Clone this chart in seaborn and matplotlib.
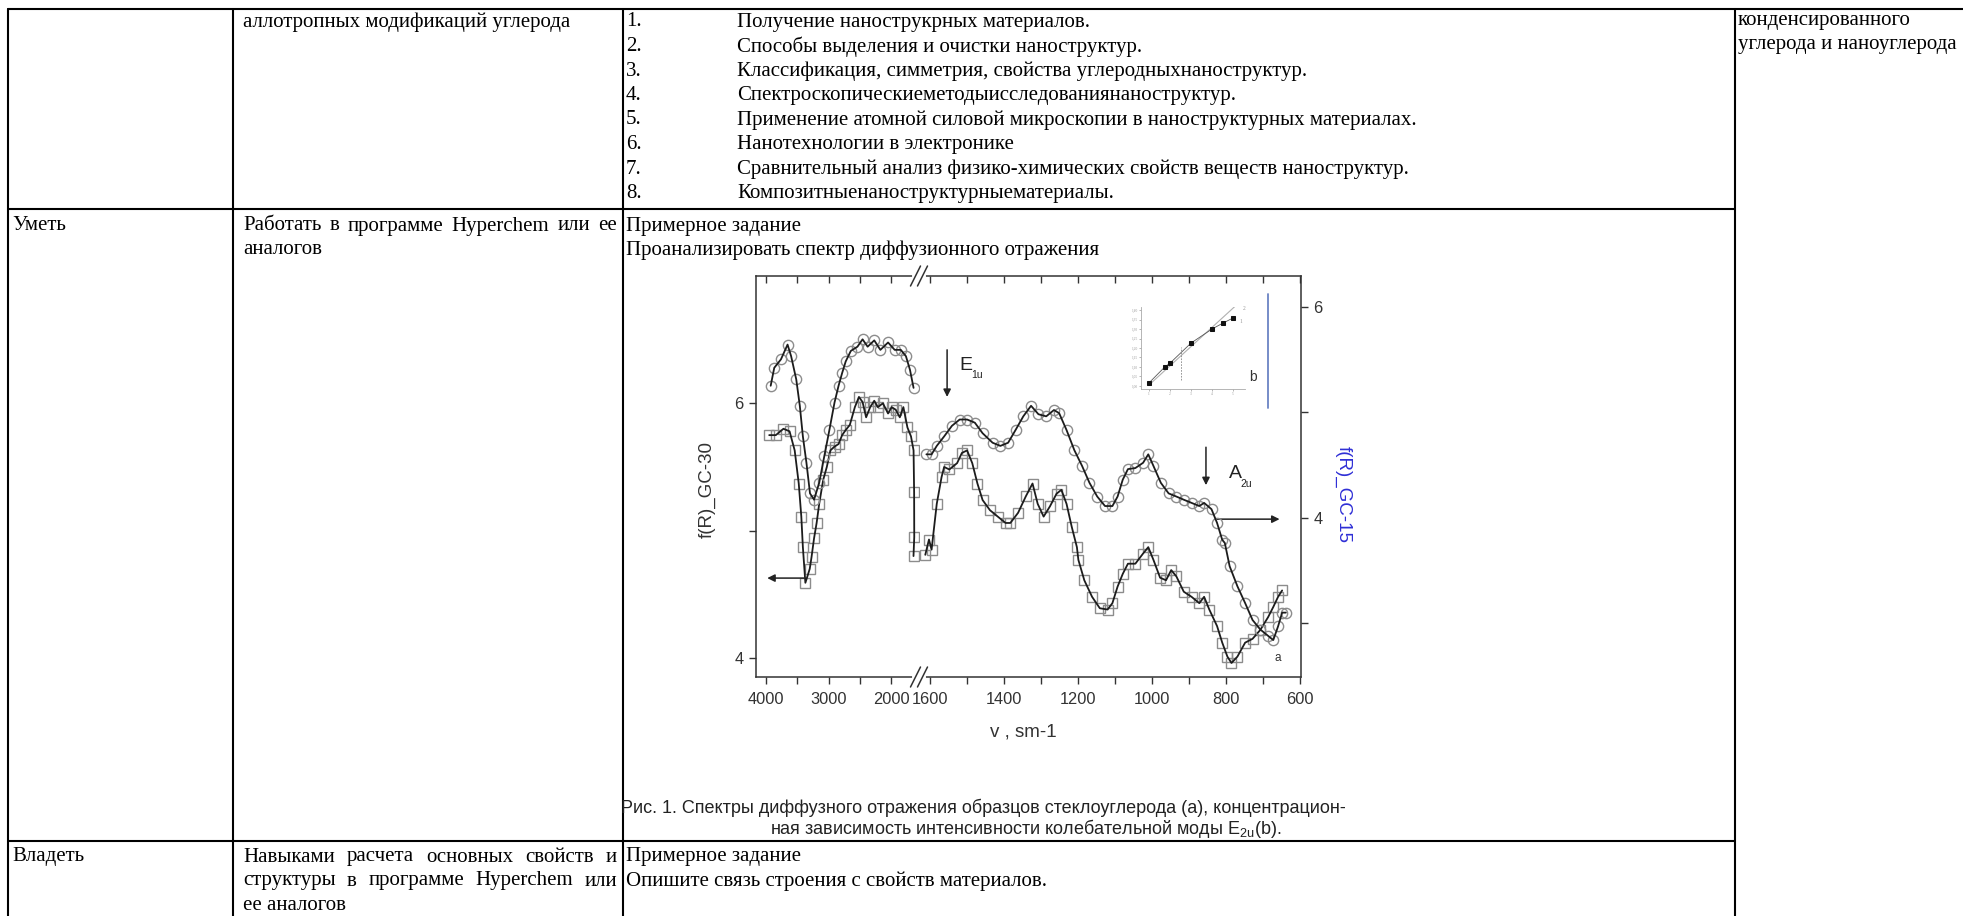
import matplotlib
matplotlib.use("Agg")
import matplotlib.pyplot as plt
from matplotlib.lines import Line2D
import seaborn as sns
import pandas as pd

sns.set_theme(style="ticks")
SERIF = ['Liberation Serif', 'DejaVu Serif']
SANS = ['Liberation Sans', 'DejaVu Sans']
plt.rcParams['font.family'] = SERIF

W, H, DPI = 1963, 916, 100

# ---------------- data ----------------
# GC-30 (squares, left axis), high-wavenumber segment
sq_hi_x = [3949, 3843, 3721, 3623, 3541, 3476, 3435, 3410, 3370, 3300, 3272, 3231, 3190, 3149,
           3084, 3027, 2970, 2904, 2839, 2782, 2725, 2659, 2578, 2513, 2455, 2398, 2333, 2268,
           2211, 2129, 2047, 1990, 1925, 1859, 1802, 1737, 1680, 1639, 1630, 1628, 1640]
sq_hi_y = [5.75, 5.75, 5.80, 5.78, 5.63, 5.37, 5.11, 4.87, 4.59, 4.70, 4.79, 4.94, 5.06, 5.21,
           5.40, 5.50, 5.63, 5.66, 5.68, 5.75, 5.79, 5.83, 5.97, 6.05, 6.01, 5.89, 5.97, 6.02,
           5.97, 6.00, 5.92, 5.97, 5.95, 5.89, 5.97, 5.81, 5.74, 5.63, 5.30, 4.95, 4.80]
# GC-30 (squares, left axis), low-wavenumber segment
sq_lo_x = [1613, 1603, 1596, 1582, 1569, 1562, 1548, 1527, 1514, 1500, 1486, 1472, 1458, 1438,
           1417, 1396, 1383, 1362, 1341, 1323, 1309, 1293, 1276, 1258, 1245, 1231, 1217, 1203,
           1199, 1183, 1162, 1141, 1120, 1107, 1093, 1079, 1065, 1045, 1024, 1010, 996, 978,
           962, 948, 934, 914, 893, 872, 859, 845, 824, 810, 796, 785, 769, 748, 728, 707,
           686, 672, 659, 648]
sq_lo_y = [4.81, 4.93, 4.85, 5.21, 5.42, 5.50, 5.48, 5.53, 5.61, 5.63, 5.53, 5.37, 5.24, 5.16,
           5.11, 5.06, 5.06, 5.14, 5.27, 5.37, 5.21, 5.11, 5.19, 5.29, 5.32, 5.21, 5.03, 4.87,
           4.77, 4.61, 4.48, 4.39, 4.38, 4.43, 4.56, 4.66, 4.74, 4.74, 4.82, 4.87, 4.77, 4.63,
           4.61, 4.69, 4.64, 4.52, 4.48, 4.43, 4.48, 4.38, 4.25, 4.12, 4.01, 3.96, 4.01, 4.12,
           4.15, 4.22, 4.32, 4.40, 4.48, 4.53]
# GC-15 (circles, right axis), high-wavenumber segment
ci_hi_x = [3925, 3868, 3761, 3655, 3598, 3516, 3459, 3410, 3353, 3296, 3231, 3149, 3068, 2986,
           2904, 2839, 2782, 2725, 2643, 2537, 2455, 2374, 2268, 2170, 2047, 1941, 1843, 1761,
           1696, 1639]
ci_hi_y = [5.25, 5.42, 5.50, 5.64, 5.53, 5.31, 5.06, 4.77, 4.52, 4.23, 4.17, 4.33, 4.58, 4.83,
           5.09, 5.25, 5.37, 5.48, 5.58, 5.62, 5.69, 5.62, 5.68, 5.59, 5.66, 5.59, 5.59, 5.53,
           5.40, 5.23]
# GC-15 (circles, right axis), low-wavenumber segment
ci_lo_x = [1610, 1596, 1582, 1562, 1541, 1520, 1500, 1479, 1458, 1431, 1410, 1389, 1369, 1348,
           1327, 1307, 1286, 1265, 1251, 1231, 1210, 1189, 1169, 1148, 1127, 1107, 1093, 1079,
           1065, 1045, 1024, 1010, 996, 976, 955, 934, 914, 893, 872, 859, 839, 824, 810, 803,
           790, 769, 748, 728, 707, 686, 672, 659, 648, 638]
ci_lo_y = [4.60, 4.60, 4.68, 4.77, 4.87, 4.93, 4.93, 4.90, 4.80, 4.71, 4.68, 4.71, 4.83, 4.96,
           5.06, 4.98, 4.96, 5.02, 4.99, 4.83, 4.64, 4.49, 4.33, 4.20, 4.11, 4.11, 4.20, 4.36,
           4.46, 4.47, 4.52, 4.60, 4.49, 4.33, 4.23, 4.20, 4.17, 4.14, 4.11, 4.14, 4.08, 3.95,
           3.79, 3.76, 3.54, 3.35, 3.19, 3.03, 2.94, 2.88, 2.84, 2.97, 3.10, 3.10]
# inset (b)
inset_x = [1, 1.75, 2, 3, 4, 4.5, 5]
inset_y = [1.016, 1.10, 1.12, 1.226, 1.30, 1.33, 1.358]
inset_fit_x = [1, 5.1]
inset_fit_y = [1.005, 1.42]

xticks_hi = [4000, 3500, 3000, 2500, 2000]
xticklabels_hi = ['4000', '', '3000', '', '2000']
xticks_lo = [1600, 1500, 1400, 1300, 1200, 1100, 1000, 900, 800, 700, 600]
xticklabels_lo = ['1600', '', '1400', '', '1200', '', '1000', '', '800', '', '600']
yticks_left = [4, 5, 6]
yticklabels_left = ['4', '', '6']
yticks_right = [3, 4, 5, 6]
yticklabels_right = ['', '4', '', '6']

list_items = [
    "Получение нанострукрных материалов.",
    "Способы выделения и очистки наноструктур.",
    "Классификация, симметрия, свойства углеродныхнаноструктур.",
    "Спектроскопическиеметодыисследованиянаноструктур.",
    "Применение атомной силовой микроскопии в наноструктурных материалах.",
    "Нанотехнологии в электронике",
    "Сравнительный анализ физико-химических свойств веществ наноструктур.",
    "Композитныенаноструктурныематериалы.",
]

# ---------------- figure ----------------
fig = plt.figure(figsize=(W / DPI, H / DPI), dpi=DPI, facecolor='white')
renderer = fig.canvas.get_renderer()


def fx(px):
    return px / W


def fy(py):
    return 1 - py / H


BODY = 15


def text(px, py, s, **kw):
    kw.setdefault('family', SERIF)
    kw.setdefault('fontsize', BODY)
    kw.setdefault('color', 'black')
    ha = kw.pop('ha', 'left')
    va = kw.pop('va', 'center')
    return fig.text(fx(px), fy(py), s, ha=ha, va=va, **kw)


def justify(px0, px1, py, s, **kw):
    words = s.split()
    arts = [text(0, py, w, **kw) for w in words]
    widths = [a.get_window_extent(renderer).width for a in arts]
    gap = (px1 - px0 - sum(widths)) / max(len(words) - 1, 1)
    x = px0
    for a, w in zip(arts, widths):
        a.set_x(fx(x))
        x += w + gap


def hline(y, x0, x1, lw=1.5):
    fig.add_artist(Line2D([fx(x0), fx(x1)], [fy(y), fy(y)], color='black', lw=lw))


def vline(x, y0, y1, lw=1.5):
    fig.add_artist(Line2D([fx(x), fx(x)], [fy(y0), fy(y1)], color='black', lw=lw))


# table grid
C0, C1, C2, C3 = 8, 233, 623, 1735
R0, R1, R2 = 9, 209, 841
hline(R0, C0, W)
hline(R1, C0, C3)
hline(R2, C0, C3)
for c in (C0, C1, C2, C3):
    vline(c, R0, H)

# row 1
text(243, 22, "аллотропных модификаций углерода")
for i, item in enumerate(list_items):
    yy = 22 + 24.5 * i
    text(626, yy, f"{i + 1}.")
    text(737, yy, item)
text(1738, 21, "конденсированного")
text(1738, 44, "углерода и наноуглерода")

# row 2
text(12, 226, "Уметь")
justify(243, 617, 226, "Работать в программе Hyperchem или ее")
text(243, 250, "аналогов")
text(626, 226, "Примерное задание")
text(626, 250, "Проанализировать спектр диффузионного отражения")

# row 3
text(12, 857, "Владеть")
justify(243, 617, 857, "Навыками расчета основных свойств и")
justify(243, 617, 881, "структуры в программе Hyperchem или")
text(243, 905, "ее аналогов")
text(626, 857, "Примерное задание")
text(626, 881, "Опишите связь строения с свойств материалов.")

# ---------------- chart ----------------
AX_L, AX_B, AX_R, AX_T, BRK = 756, 677, 1301, 276, 919
SP = '#333333'
LINE = '#1c1c1c'
MK = '#8c8c8c'

axL = fig.add_axes([fx(AX_L), fy(AX_B), fx(BRK) - fx(AX_L), fy(AX_T) - fy(AX_B)])
axR = fig.add_axes([fx(BRK), fy(AX_B), fx(AX_R) - fx(BRK), fy(AX_T) - fy(AX_B)])
axL2 = axL.twinx()
axR2 = axR.twinx()
for a in (axL, axR, axL2, axR2):
    a.set_facecolor('none')


def draw_series(ax, x, y, marker):
    df = pd.DataFrame({'x': x, 'y': y})
    sns.lineplot(data=df, x='x', y='y', ax=ax, sort=False, estimator=None,
                 color=MK, marker=marker, linestyle='none', markersize=7.4,
                 markerfacecolor='none', markeredgecolor=MK, markeredgewidth=1.0, zorder=2)
    sns.lineplot(data=df, x='x', y='y', ax=ax, sort=False, estimator=None,
                 color=LINE, lw=1.3, zorder=3)
    ax.set_xlabel('')
    ax.set_ylabel('')


draw_series(axL, sq_hi_x, sq_hi_y, 's')
draw_series(axR, sq_lo_x, sq_lo_y, 's')
draw_series(axL2, ci_hi_x, ci_hi_y, 'o')
draw_series(axR2, ci_lo_x, ci_lo_y, 'o')

axL.set_xlim(4160, 1552)
axR.set_xlim(1630, 597)
for a in (axL, axR):
    a.set_ylim(3.85, 7.0)
for a in (axL2, axR2):
    a.set_ylim(2.49, 6.29)

tick_kw = dict(color=SP, labelcolor='#333333', labelsize=11.8, width=1.0, length=5)
axL.set_xticks(xticks_hi, xticklabels_hi)
axR.set_xticks(xticks_lo, xticklabels_lo)
axL.set_yticks(yticks_left, yticklabels_left)
axR.set_yticks(yticks_left)
axR2.set_yticks(yticks_right, yticklabels_right)
axL2.set_yticks([])

axL.tick_params(axis='x', direction='out', pad=6, **tick_kw)
axR.tick_params(axis='x', direction='out', pad=6, **tick_kw)
axL.tick_params(axis='y', direction='out', pad=4, **tick_kw)
axR.tick_params(axis='y', left=False, labelleft=False)
axR2.tick_params(axis='y', direction='out', pad=4, **tick_kw)
axL2.tick_params(axis='y', right=False, labelright=False)

for a in (axL, axR):
    sec = a.secondary_xaxis('top')
    sec.set_xticks(a.get_xticks())
    sec.tick_params(axis='x', direction='in', labeltop=False, color=SP, width=1.0, length=5)
    sec.spines['top'].set_visible(False)

for a in (axL, axR, axL2, axR2):
    for s in a.spines.values():
        s.set_color(SP)
        s.set_linewidth(1.1)
axL.spines['right'].set_visible(False)
axR.spines['left'].set_visible(False)
axR.spines['right'].set_visible(False)
for s in ('left', 'right', 'top', 'bottom'):
    axL2.spines[s].set_visible(False)
for s in ('left', 'top', 'bottom'):
    axR2.spines[s].set_visible(False)

for a in (axL, axR, axR2):
    for lab in a.get_xticklabels() + a.get_yticklabels():
        lab.set_family(SANS)

# break marks
for yy in (AX_T, AX_B):
    fig.add_artist(Line2D([fx(BRK - 5), fx(BRK + 5)], [fy(yy), fy(yy)], color='white', lw=3))
    for dx in (-3.5, 3.5):
        fig.add_artist(Line2D([fx(BRK + dx - 5), fx(BRK + dx + 5)], [fy(yy + 10), fy(yy - 10)],
                              color=SP, lw=1.1))

# annotations
arrow = dict(arrowstyle='-|>', color='#222222', lw=1.1, mutation_scale=11, shrinkA=0, shrinkB=0)
axR.annotate('', xy=(1554, 6.05), xytext=(1554, 6.42), arrowprops=arrow)
axR.text(1522, 6.30, 'E', family=SANS, fontsize=14, color='#222222', va='center')
axR.text(1490, 6.22, '1u', family=SANS, fontsize=7.5, color='#222222', va='center')
axR.annotate('', xy=(854, 5.357), xytext=(854, 5.655), arrowprops=arrow)
axR.text(792, 5.45, 'A', family=SANS, fontsize=14, color='#222222', va='center')
axR.text(760, 5.37, '2u', family=SANS, fontsize=7.5, color='#222222', va='center')
axR.annotate('', xy=(655, 5.09), xytext=(824, 5.09), arrowprops=arrow)
axL.annotate('', xy=(3980, 4.627), xytext=(3392, 4.627), arrowprops=arrow)
axR.text(659, 4.0, 'a', family=SANS, fontsize=8.5, color='#333333', va='center', ha='center')
axR.text(727, 6.21, 'b', family=SANS, fontsize=10, color='#333333', va='center', ha='center')
axR.plot([686, 686], [5.96, 6.86], color='#6b84c4', lw=1.3)

# axis labels
text(707, 490, 'f(R)_GC-30', family=SANS, fontsize=13.5, color='#333333', rotation=90, ha='center')
text(1343, 495, 'f(R)_GC-15', family=SANS, fontsize=13.5, color='#2f2fd6', rotation=-90, ha='center')
text(1023, 732, 'v , sm-1', family=SANS, fontsize=13.5, color='#333333', ha='center')

# inset
axI = fig.add_axes([fx(1141), fy(389), fx(1245) - fx(1141), fy(307) - fy(389)])
axI.set_facecolor('none')
sns.lineplot(x=inset_fit_x, y=inset_fit_y, ax=axI, color='#b0b0b0', lw=0.8)
sns.lineplot(x=inset_x, y=inset_y, ax=axI, color='#555555', lw=0.6, marker='s',
             markersize=3.4, markerfacecolor='#111111', markeredgecolor='#111111')
axI.plot([2.52, 2.52], [1.03, 1.205], color='#888888', lw=0.6, ls=(0, (2, 1.5)))
axI.set_xlim(0.62, 5.57)
axI.set_ylim(0.984, 1.416)
axI.set_xticks([1, 2, 3, 4, 5])
axI.set_yticks([1.0, 1.05, 1.10, 1.15, 1.20, 1.25, 1.30, 1.35, 1.40],
               ['1,00', '1,05', '1,10', '1,15', '1,20', '1,25', '1,30', '1,35', '1,40'])
axI.tick_params(labelsize=2.6, length=1.5, width=0.5, pad=1, colors='#999999')
for s in ('top', 'right'):
    axI.spines[s].set_visible(False)
for s in ('left', 'bottom'):
    axI.spines[s].set_color('#aaaaaa')
    axI.spines[s].set_linewidth(0.6)
axI.text(5.45, 1.41, '2', fontsize=4, color='#999999', va='center')
axI.text(5.30, 1.34, '1', fontsize=4, color='#999999', va='center')

# caption
text(621, 808, 'Рис. 1. Спектры диффузного отражения образцов стеклоуглерода (а), концентрацион-',
     family=SANS, fontsize=13, color='#222222')
text(770, 828, 'ная зависимость интенсивности колебательной моды E$_{\\mathregular{2u}}$(b).',
     family=SANS, fontsize=13, color='#222222')

fig.savefig('out.png', dpi=DPI, facecolor='white')
